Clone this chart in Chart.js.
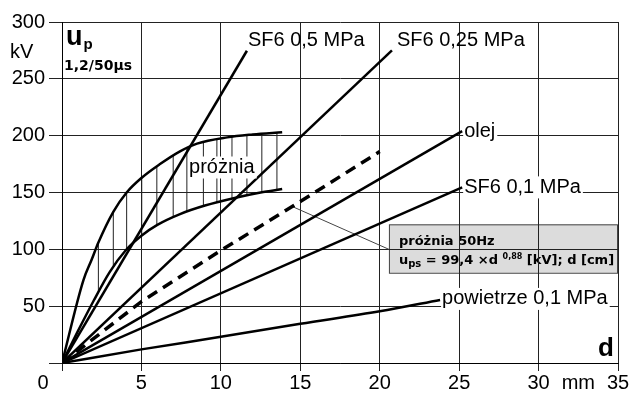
<!DOCTYPE html>
<html>
<head>
<meta charset="utf-8">
<script src="https://cdn.jsdelivr.net/npm/chart.js@4.4.1/dist/chart.umd.min.js"></script>
<style>
  html, body { margin: 0; padding: 0; background: #fff; }
</style>
</head>
<body>
<canvas id="chart" width="630" height="396"></canvas>
<script>
const xTicks = [0, 5, 10, 15, 20, 25, 30, 35];
const yTicks = [0, 50, 100, 150, 200, 250, 300];

// d in mm, u in kV
const sf6HiX = [0, 11.64];
const sf6HiY = [0, 274.7];
const sf6MidX = [0, 20.77];
const sf6MidY = [0, 275];
const olejX = [0, 25.19];
const olejY = [0, 204];
const sf6LoX = [0, 25.19];
const sf6LoY = [0, 154.5];
const airX = [0, 5, 10, 15, 20, 23.8];
const airY = [0, 12, 23, 34.5, 45.5, 55.5];

// próżnia 50Hz (dashed)
const vac50X = [0, 5, 10, 15, 20];
const vac50Y = [0, 54, 99, 142, 186];

// próżnia 1,2/50 band
const vacTopX = [0, 1.35, 1.87, 2.29, 3.23, 4.07, 5.02, 6.17, 7.4, 8.5, 10.4, 12, 13.86];
const vacTopY = [0, 73, 91, 106, 133, 150, 163, 175, 186, 193, 198.5, 201, 203];
const vacLowX = [0, 1, 2, 3, 4, 5, 6, 7.43, 9, 11, 12.5, 13.86];
const vacLowY = [0, 28, 55, 80, 99, 112, 121.5, 131, 138.5, 145.6, 150, 153];
const hatchX = [2.29, 3.23, 4.07, 5.02, 5.97, 7.0, 7.86, 8.9, 9.75, 10.7, 11.64, 12.58, 13.53];
const hatchTop = [106, 133, 150, 163, 173, 182.5, 189, 195, 197.5, 199, 200.5, 201.5, 202.5];
const hatchLow = [62, 85, 101, 112.2, 121.3, 128.5, 133, 138, 141, 144.5, 147.5, 150.5, 152.5];

const leaderX = [14.49, 20.58];
const leaderY = [137.7, 100];

function pts(xs, ys) {
    return xs.map(function (x, i) {
        return { x: x, y: ys[i] };
    });
}

const hatch = [];
hatchX.forEach(function (x, i) {
    hatch.push({ x: x, y: hatchLow[i] }, { x: x, y: hatchTop[i] }, { x: x, y: null });
});

const LAB = '20px "Liberation Sans", Arial, sans-serif';
const BOXF = 'bold 13px "DejaVu Sans", sans-serif';

function line(data, extra) {
    return Object.assign({
        data: data,
        showLine: true,
        borderColor: '#000',
        borderWidth: 2.5,
        pointRadius: 0,
        tension: 0,
        spanGaps: false,
    }, extra || {});
}

// label texts hang off the last point of each series
const endLabels = [
    { text: 'SF6 0,5 MPa', ds: 0, dx: 1, dy: -10, bg: false },
    { text: 'SF6 0,25 MPa', ds: 1, dx: 5, dy: -10, bg: false },
    { text: 'olej', ds: 2, dx: 2, dy: 0, bg: true },
    { text: 'SF6 0,1 MPa', ds: 3, dx: 2, dy: 0, bg: true },
    { text: 'powietrze 0,1 MPa', ds: 4, dx: 2, dy: -1, bg: true },
];

const extras = {
    id: 'extras',
    beforeDraw(chart) {
        // grey formula box, grid goes over it like in the original
        const ctx = chart.ctx;
        const xs = chart.scales.x, ys = chart.scales.y;
        const l = xs.getPixelForValue(20.58), r = chart.chartArea.right - 1;
        const t = ys.getPixelForValue(122), b = ys.getPixelForValue(79.4);
        ctx.save();
        ctx.fillStyle = '#dcdcdc';
        ctx.fillRect(l, t, r - l, b - t);
        ctx.strokeStyle = '#444';
        ctx.lineWidth = 1;
        ctx.strokeRect(l + 0.5, t + 0.5, r - l, b - t);
        const mid = Math.round((t + b) / 2) + 0.5;
        ctx.beginPath();
        ctx.moveTo(l, mid);
        ctx.lineTo(r, mid);
        ctx.stroke();
        ctx.fillStyle = '#000';
        ctx.textBaseline = 'alphabetic';
        ctx.font = BOXF;
        ctx.fillText('próżnia 50Hz', l + 10, t + 21);
        let x = l + 10;
        const base = b - 9;
        const piece = function (txt, font, dy) {
            ctx.font = font;
            ctx.fillText(txt, x, base + dy);
            x += ctx.measureText(txt).width;
        };
        piece('u', BOXF, 0);
        piece('ps', 'bold 10px "DejaVu Sans", sans-serif', 3);
        piece(' = 99,4 ×d ', BOXF, 0);
        piece('0,88', 'bold 8px "DejaVu Sans", sans-serif', -5);
        piece(' [kV]; d [cm]', BOXF, 0);
        ctx.restore();
    },
    afterDatasetsDraw(chart) {
        const ctx = chart.ctx;
        const xs = chart.scales.x, ys = chart.scales.y;
        ctx.save();
        ctx.font = LAB;
        ctx.textBaseline = 'middle';
        const put = function (txt, px, py, bg) {
            const w = ctx.measureText(txt).width;
            if (bg) {
                ctx.fillStyle = '#fff';
                ctx.fillRect(px - 1, py - 11, w + 3, 22);
            }
            ctx.fillStyle = '#000';
            ctx.fillText(txt, px, py);
        };
        endLabels.forEach(function (lb) {
            const d = chart.data.datasets[lb.ds].data;
            const p = d[d.length - 1];
            put(lb.text, xs.getPixelForValue(p.x) + lb.dx, ys.getPixelForValue(p.y) + lb.dy, lb.bg);
        });
        put('próżnia', xs.getPixelForValue(8.0), ys.getPixelForValue(172), true);
        ctx.restore();
    },
    afterDraw(chart) {
        const ctx = chart.ctx;
        const xs = chart.scales.x, ys = chart.scales.y;
        const a = chart.chartArea;
        ctx.save();
        ctx.fillStyle = '#000';
        ctx.font = LAB;
        ctx.textBaseline = 'middle';
        ctx.textAlign = 'center';
        const ty = a.bottom + 20;
        ctx.fillText('0', 43, ty);
        ctx.fillText('mm', xs.getPixelForValue(32.5), ty);
        ctx.textAlign = 'left';
        ctx.fillText('kV', 10, ys.getPixelForValue(275) + 2);
        // u_p 1,2/50µs in the corner
        ctx.textBaseline = 'alphabetic';
        ctx.font = 'bold 27px "Liberation Sans", Arial, sans-serif';
        ctx.fillText('u', a.left + 4, a.top + 23);
        const uw = ctx.measureText('u').width;
        ctx.font = 'bold 15px "Liberation Sans", Arial, sans-serif';
        ctx.fillText('p', a.left + 5 + uw, a.top + 27);
        ctx.font = 'bold 14px "DejaVu Sans", sans-serif';
        ctx.fillText('1,2/50µs', a.left + 2, a.top + 48);
        ctx.font = 'bold 26px "Liberation Sans", Arial, sans-serif';
        ctx.textAlign = 'right';
        ctx.fillText('d', a.right - 4, a.bottom - 7);
        ctx.restore();
    },
};

new Chart(document.getElementById('chart'), {
    type: 'scatter',
    data: {
        datasets: [
            line(pts(sf6HiX, sf6HiY)),
            line(pts(sf6MidX, sf6MidY)),
            line(pts(olejX, olejY)),
            line(pts(sf6LoX, sf6LoY)),
            line(pts(airX, airY), { cubicInterpolationMode: 'monotone' }),
            line(pts(vac50X, vac50Y), { borderWidth: 3.5, borderDash: [11, 7] }),
            line(pts(vacTopX, vacTopY), { cubicInterpolationMode: 'monotone' }),
            line(pts(vacLowX, vacLowY), { cubicInterpolationMode: 'monotone' }),
            line(hatch, { borderWidth: 1, borderColor: '#222' }),
            line(pts(leaderX, leaderY), { borderWidth: 1, borderColor: '#444' }),
        ],
    },
    options: {
        responsive: false,
        devicePixelRatio: 1,
        animation: false,
        layout: { padding: { top: 22, right: 12, left: 0, bottom: 0 } },
        plugins: { legend: { display: false }, tooltip: { enabled: false } },
        scales: {
            x: {
                type: 'linear',
                min: 0,
                max: 35,
                afterBuildTicks: function (s) {
                    s.ticks = xTicks.map(function (v) { return { value: v }; });
                },
                afterFit: function (s) { s.height = 33; },
                ticks: {
                    font: { family: '"Liberation Sans", Arial, sans-serif', size: 20 },
                    color: '#000',
                    padding: 0,
                    maxRotation: 0,
                    autoSkip: false,
                    callback: function (v) { return v === 0 ? '' : v; },
                },
                grid: { color: '#222', lineWidth: 1, tickLength: 8, tickColor: '#222' },
                border: { color: '#000', width: 1 },
            },
            y: {
                min: 0,
                max: 300,
                afterBuildTicks: function (s) {
                    s.ticks = yTicks.map(function (v) { return { value: v }; });
                },
                afterFit: function (s) { s.width = 62; },
                ticks: {
                    font: { family: '"Liberation Sans", Arial, sans-serif', size: 20 },
                    color: '#000',
                    padding: 4,
                    callback: function (v) { return v === 0 ? '' : v; },
                },
                grid: { color: '#222', lineWidth: 1, tickLength: 13, tickColor: '#222' },
                border: { color: '#000', width: 1 },
            },
        },
    },
    plugins: [extras],
});
</script>
</body>
</html>
